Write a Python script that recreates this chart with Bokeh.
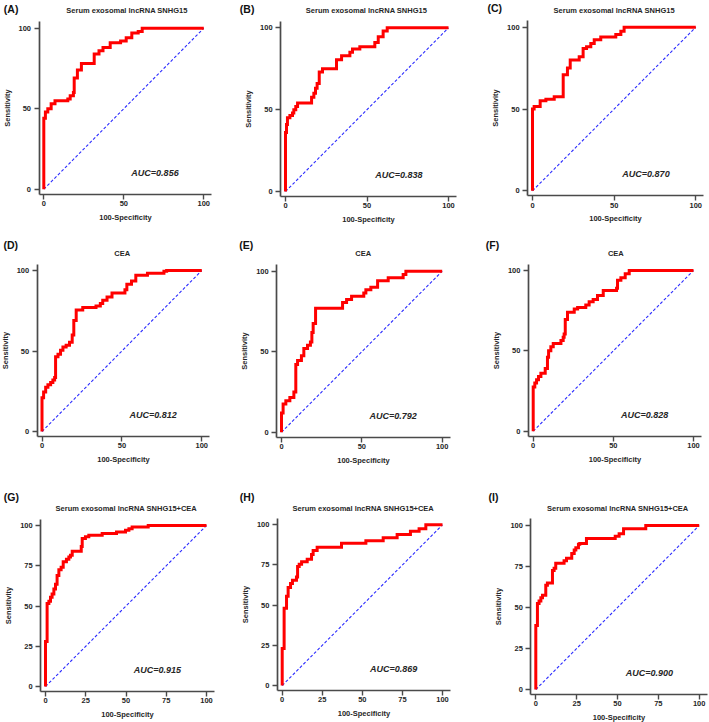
from bokeh.plotting import figure
from bokeh.models import Label, FixedTicker
from bokeh.layouts import column, row
from bokeh.embed import file_html
from bokeh.resources import INLINE

FONT = "Liberation Sans"

# ---------------- data (100-Specificity, Sensitivity) ----------------
a_fpr = [0, 0, 1, 2.5, 4.6, 7, 15, 16.5, 18.5, 19, 21, 23.5, 31.5, 34.5, 37, 41.5, 48, 51.5, 55, 59, 61.5, 100]
a_tpr = [0, 44, 48, 50, 53, 55, 56, 58, 60, 69, 74, 78, 84, 86, 88, 91, 92, 94, 97, 98, 100, 100]

b_fpr = [0, 0, 0.6, 1.2, 2.7, 4.3, 5.1, 6.3, 7.4, 16, 17.4, 18.4, 19.4, 20.7, 22.7, 31.3, 34.4, 39.5, 41.1, 45.6, 54.8, 56.9, 59.9, 62.4, 100]
b_tpr = [0, 36, 41, 45, 46.5, 48, 50, 52, 54, 57.5, 60, 63, 66, 73, 75, 80.5, 83, 85, 87, 88.5, 91, 94.5, 98, 100, 100]

c_fpr = [0, 0, 1, 4.7, 8.2, 13.3, 18.8, 21.4, 23.1, 28.6, 31, 33.1, 35.7, 37.8, 41.8, 51, 54.1, 56.1, 100]
c_tpr = [0, 50, 51.5, 55, 56, 57.5, 71, 75, 80, 82, 87, 88, 90, 92.3, 94, 95.5, 97.5, 100, 100]

d_fpr = [0, 0, 1, 2.3, 3.7, 5.4, 6.8, 7.9, 8.5, 10, 11.6, 13.1, 15.1, 17.2, 18.9, 19.9, 21.4, 25.5, 33.8, 36.5, 38, 40.7, 43.8, 51.9, 53.1, 56, 58.7, 66, 76.3, 78, 100]
d_tpr = [0, 21, 24.5, 27.5, 29, 30.5, 32, 33.5, 46.5, 48, 50.5, 52.5, 53.5, 55.5, 60, 69, 75.5, 77, 78, 79.5, 81.5, 83.5, 86, 88, 91.5, 93.5, 97, 98.3, 99.5, 100, 100]

e_fpr = [0, 0, 1, 2.7, 5.2, 7.7, 8.9, 10, 12.4, 13.9, 16.2, 18, 18.9, 19.7, 21.2, 38, 40.5, 43.6, 51.2, 52.5, 55.6, 59.8, 66.4, 75.7, 77.4, 100]
e_tpr = [0, 12, 17.5, 19.5, 21.5, 25, 42, 44.5, 47.5, 52, 54, 56, 62, 67.5, 77, 80.5, 82.5, 84.5, 86.5, 88.5, 90, 94, 96, 98, 100, 100]

f_fpr = [0, 0, 1, 2.1, 3.3, 4.8, 7.5, 8.9, 9.6, 11, 12.5, 17.3, 18.7, 19.3, 20, 21.4, 25.6, 27.7, 32.8, 34.9, 37.4, 40.1, 43.7, 52, 52.6, 54.7, 57.4, 59.9, 100]
f_tpr = [0, 27.5, 30, 32, 34, 36, 39, 46, 50, 52.5, 54.5, 56.5, 58.5, 60.5, 69.5, 74, 76, 77, 78.5, 80.5, 82, 84.5, 87.5, 89, 94, 95.5, 98, 100, 100]

g_fpr = [0, 0, 1, 2.1, 3.1, 4.1, 5.2, 6.2, 7.2, 8.3, 9.7, 11, 13, 14.5, 15.5, 16.6, 22.2, 22.8, 24.8, 26.9, 35.2, 44.1, 49.7, 51.8, 53.8, 63.8, 100]
g_tpr = [0, 28, 51.5, 53, 55.5, 57.5, 60.5, 63.5, 69, 72.5, 74, 77.5, 79, 80.5, 81.5, 84, 87, 92, 93, 94, 95, 96, 97, 98, 99, 100, 100]

h_fpr = [0, 0, 1.2, 2.7, 3.7, 5.2, 6.4, 8.9, 9.6, 10.6, 12.1, 15.6, 18.3, 19.3, 21.8, 37, 52.2, 63, 71.7, 80, 85.4, 89.6, 100]
h_tpr = [0, 23, 48, 55.5, 61, 63.5, 65.5, 67.5, 74, 75.5, 77, 78.5, 81.5, 84, 86, 88.5, 90, 92, 94, 96, 97.5, 100, 100]

i_fpr = [0, 0, 1, 2, 3.1, 4.1, 6.1, 7.1, 10.2, 11.2, 12.2, 17.3, 18.8, 22, 23.5, 24.5, 26.1, 26.9, 31, 48.6, 51, 53.7, 67.3, 100]
i_tpr = [0, 39, 52.5, 54, 56, 57.5, 63.5, 65, 72.5, 74, 77, 78.5, 80, 83, 85, 86.5, 88.5, 89, 92, 93.5, 95, 98, 100, 100]

diag_x = [0, 100]
diag_y = [0, 100]

letters = ["(A)", "(B)", "(C)", "(D)", "(E)", "(F)", "(G)", "(H)", "(I)"]
titles = ["Serum exosomal lncRNA SNHG15"] * 3 + ["CEA"] * 3 + ["Serum exosomal lncRNA SNHG15+CEA"] * 3
aucs = ["AUC=0.856", "AUC=0.838", "AUC=0.870",
        "AUC=0.812", "AUC=0.792", "AUC=0.828",
        "AUC=0.915", "AUC=0.869", "AUC=0.900"]
ticks_top = [0, 50, 100]
ticks_bottom = [0, 25, 50, 75, 100]
curves = [(a_fpr, a_tpr), (b_fpr, b_tpr), (c_fpr, c_tpr),
          (d_fpr, d_tpr), (e_fpr, e_tpr), (f_fpr, f_tpr),
          (g_fpr, g_tpr), (h_fpr, h_tpr), (i_fpr, i_tpr)]

# ---------------- layout geometry (page pixels) ----------------
X0, X1 = -3.0, 105.0     # extent of the drawn x axis line
Y0, Y1 = -3.0, 104.0     # extent of the drawn y axis line
col_x = [0, 236, 472]
col_w = [236, 236, 237]
row_y = [0, 240, 480]
row_h = [240, 240, 242]
# pixel calibration per panel: x of 0, x of 100, y of 0, y of 100
calib = [(43.3, 203.3, 188.7, 27.7), (285.0, 448.0, 191.0, 27.3), (532.0, 695.3, 190.3, 26.7),
         (41.5, 201.3, 431.0, 270.0), (281.0, 441.7, 431.7, 270.7), (532.7, 693.0, 430.7, 270.0),
         (45.0, 206.0, 686.0, 525.0), (281.7, 442.0, 685.0, 524.3), (535.3, 698.7, 689.0, 525.0)]
letter_pos = [(3.3, 8.2), (239.3, 8.0), (487.0, 7.8),
              (3.0, 244.0), (238.7, 244.0), (485.3, 244.0),
              (3.3, 496.7), (239.3, 496.7), (488.0, 496.0)]
title_pos = [(126.5, 10.0), (366.0, 10.0), (613.7, 9.7),
             (121.7, 253.3), (362.7, 253.0), (615.3, 253.0),
             (125.8, 508.3), (362.8, 508.0), (617.3, 508.0)]

TXT = "#262626"
AX = "#4a4a4a"


def make_panel(k):
    ri, ci = divmod(k, 3)
    fx0, fy0, fw, fh = col_x[ci], row_y[ri], col_w[ci], row_h[ri]
    x0p, x100p, y0p, y100p = calib[k]
    pxu = (x100p - x0p) / 100.0
    pyu = (y0p - y100p) / 100.0
    xs = (fx0 - x0p) / pxu
    xe = (fx0 + fw - x0p) / pxu
    ye = (y0p - fy0) / pyu
    ys = (y0p - (fy0 + fh)) / pyu

    def dx(px):
        return (px - x0p) / pxu

    def dy(py):
        return (y0p - py) / pyu

    p = figure(width=fw, height=fh, x_range=(xs, xe), y_range=(ys, ye),
               output_backend="svg", toolbar_location=None,
               min_border=0, min_border_left=0, min_border_right=0,
               min_border_top=0, min_border_bottom=0)
    p.title.visible = False
    p.outline_line_color = None
    p.grid.visible = False
    p.background_fill_color = "white"
    p.border_fill_color = "white"

    ticks = ticks_bottom if ri == 2 else ticks_top
    for ax in (p.xaxis[0], p.yaxis[0]):
        ax.ticker = FixedTicker(ticks=ticks)
        ax.minor_tick_line_color = None
        ax.major_tick_in = 0
        ax.axis_line_color = AX
        ax.axis_line_width = 1.7
        ax.major_tick_line_color = AX
        ax.major_tick_line_width = 1.4
        ax.major_label_text_font = FONT
        ax.major_label_text_font_style = "bold"
        ax.major_label_text_font_size = "7.5px"
        ax.major_label_text_color = TXT
        ax.axis_label_text_font = FONT
        ax.axis_label_text_font_style = "bold"
        ax.axis_label_text_font_size = "7.5px"
        ax.axis_label_text_color = TXT
    p.xaxis[0].axis_label = "100-Specificity"
    p.yaxis[0].axis_label = "Sensitivity"
    p.xaxis[0].fixed_location = Y0
    p.xaxis[0].bounds = (X0, X1)
    p.yaxis[0].fixed_location = X0
    p.yaxis[0].bounds = (Y0, Y1)
    p.xaxis[0].major_tick_out = 5
    p.xaxis[0].major_label_standoff = 2
    p.xaxis[0].axis_label_standoff = 3
    p.yaxis[0].major_tick_out = 5
    p.yaxis[0].major_label_standoff = 3
    p.yaxis[0].axis_label_standoff = 4

    p.line(diag_x, diag_y, line_color="#2b2bff", line_width=1.1, line_dash="3 2")
    cx, cy = curves[k]
    p.step(cx, cy, mode="after", line_color="#ff0000", line_width=3, line_join="miter")

    p.add_layout(Label(x=69.5, y=10, text=aucs[k], text_font=FONT,
                       text_font_style="bold italic", text_font_size="9px",
                       text_color=TXT, text_align="center", text_baseline="middle"))
    tx, ty = title_pos[k]
    p.add_layout(Label(x=dx(tx), y=dy(ty), text=titles[k], text_font=FONT,
                       text_font_style="bold", text_font_size="7.5px",
                       text_color=TXT, text_align="center", text_baseline="middle"))
    lx, ly = letter_pos[k]
    p.add_layout(Label(x=dx(lx), y=dy(ly), text=letters[k], text_font=FONT,
                       text_font_style="bold", text_font_size="10.5px",
                       text_color="#111111", text_align="left", text_baseline="middle"))
    return p


figs = [make_panel(k) for k in range(9)]
layout = column(row(*figs[0:3]), row(*figs[3:6]), row(*figs[6:9]))

open("out.html", "w").write(file_html(layout, INLINE))
